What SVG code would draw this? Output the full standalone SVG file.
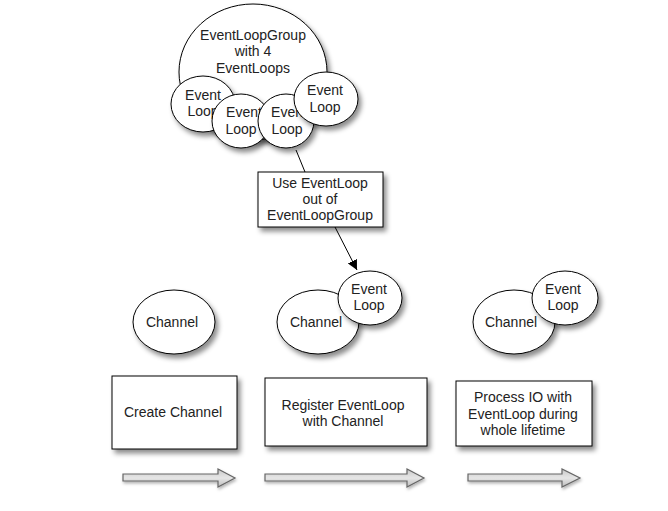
<svg xmlns="http://www.w3.org/2000/svg" width="668" height="511" viewBox="0 0 668 511">
<defs>
<filter id="sh" x="-20%" y="-20%" width="150%" height="150%">
<feDropShadow dx="3" dy="4" stdDeviation="2.5" flood-color="#000" flood-opacity="0.45"/>
</filter>
<filter id="sh2" x="-10%" y="-40%" width="130%" height="200%">
<feDropShadow dx="1" dy="2" stdDeviation="1.5" flood-color="#000" flood-opacity="0.3"/>
</filter>
<linearGradient id="gr" x1="0" y1="0" x2="0" y2="1">
<stop offset="0" stop-color="#c8c8c8"/>
<stop offset="0.5" stop-color="#e6e6e6"/>
<stop offset="1" stop-color="#bdbdbd"/>
</linearGradient>
<marker id="ah" viewBox="0 0 10 10" refX="10" refY="5" markerWidth="10" markerHeight="10" markerUnits="userSpaceOnUse" orient="auto">
<path d="M0,0 L10,5 L0,10 z" fill="#000"/>
</marker>
</defs>
<style>
.n{fill:#fff;stroke:#000;stroke-width:1;filter:url(#sh)}
.t{font-family:"Liberation Sans",Arial,sans-serif;font-size:14px;fill:#222;text-anchor:middle}
.c{stroke:#000;stroke-width:1;fill:none}
.ba{fill:url(#gr);stroke:#666;stroke-width:1.2;filter:url(#sh2)}
</style>
<rect width="668" height="511" fill="#fff"/>

<g id="eventloopgroup">
<ellipse class="n" cx="253" cy="72" rx="74" ry="68"/>
<text class="t" x="253" y="40">EventLoopGroup</text>
<text class="t" x="253" y="56">with 4</text>
<text class="t" x="253" y="73">EventLoops</text>
</g>
<g id="el1">
<ellipse class="n" cx="203" cy="104" rx="32" ry="28"/>
<text class="t" x="203" y="100">Event</text>
<text class="t" x="203" y="116">Loop</text>
</g>
<g id="el2">
<ellipse class="n" cx="241" cy="121" rx="29" ry="27"/>
<text class="t" x="244" y="117">Event</text>
<text class="t" x="241" y="134">Loop</text>
</g>
<g id="el3">
<ellipse class="n" cx="286" cy="121" rx="28" ry="27"/>
<text class="t" x="289" y="117">Event</text>
<text class="t" x="287" y="134">Loop</text>
</g>
<g id="el4">
<ellipse class="n" cx="326" cy="99" rx="32" ry="27"/>
<text class="t" x="325" y="95">Event</text>
<text class="t" x="325" y="112">Loop</text>
</g>

<g id="connectors">
<line class="c" x1="296" y1="150" x2="305" y2="172"/>
<line class="c" x1="335" y1="227" x2="357" y2="270" marker-end="url(#ah)"/>
</g>

<g id="use-box">
<rect class="n" x="258" y="172" width="125" height="55"/>
<text class="t" x="320" y="188">Use EventLoop</text>
<text class="t" x="320" y="204">out of</text>
<text class="t" x="320" y="220">EventLoopGroup</text>
</g>

<g id="channel1">
<ellipse class="n" cx="174" cy="322" rx="41" ry="32"/>
<text class="t" x="172" y="327">Channel</text>
</g>
<g id="create-box">
<rect class="n" x="112" y="376" width="125" height="73"/>
<text class="t" x="173" y="417">Create Channel</text>
</g>
<g id="arrow1">
<polygon class="ba" points="123,474 218,474 218,469 235,478 218,487 218,481 123,481"/>
</g>

<g id="channel2">
<ellipse class="n" cx="318" cy="322" rx="41" ry="32"/>
<text class="t" x="316" y="327">Channel</text>
</g>
<g id="el-ch2">
<ellipse class="n" cx="370" cy="298" rx="32" ry="27"/>
<text class="t" x="369" y="294">Event</text>
<text class="t" x="369" y="310">Loop</text>
</g>
<g id="register-box">
<rect class="n" x="265" y="378" width="162" height="68"/>
<text class="t" x="343" y="410">Register EventLoop</text>
<text class="t" x="343" y="426">with Channel</text>
</g>
<g id="arrow2">
<polygon class="ba" points="265,474 407,474 407,469 424,478 407,487 407,481 265,481"/>
</g>

<g id="channel3">
<ellipse class="n" cx="514" cy="322" rx="41" ry="32"/>
<text class="t" x="511" y="327">Channel</text>
</g>
<g id="el-ch3">
<ellipse class="n" cx="565" cy="298" rx="33" ry="27"/>
<text class="t" x="563" y="294">Event</text>
<text class="t" x="563" y="310">Loop</text>
</g>
<g id="process-box">
<rect class="n" x="456" y="381" width="136" height="65"/>
<text class="t" x="523" y="402">Process IO with</text>
<text class="t" x="523" y="419">EventLoop during</text>
<text class="t" x="523" y="435">whole lifetime</text>
</g>
<g id="arrow3">
<polygon class="ba" points="468,474 562,474 562,469 580,478 562,487 562,481 468,481"/>
</g>
</svg>
